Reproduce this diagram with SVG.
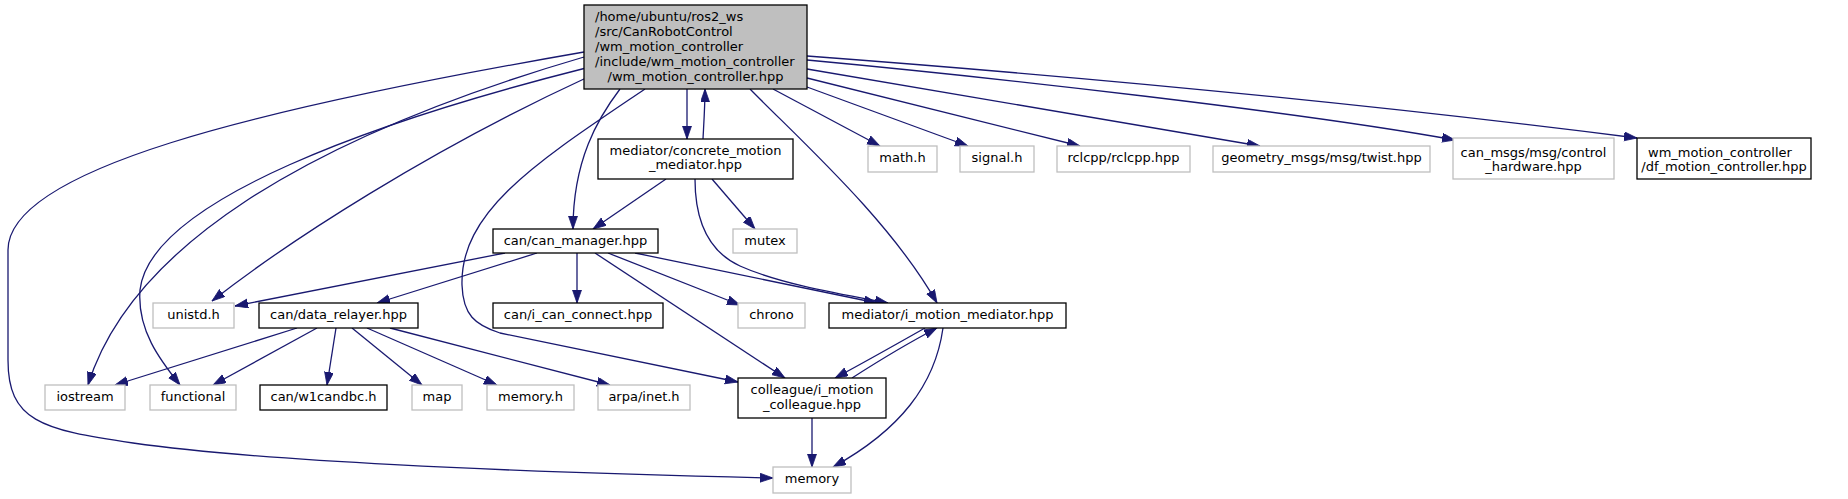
<svg xmlns="http://www.w3.org/2000/svg" width="1848" height="499" viewBox="0 0 1848 499">
<defs>
<marker id="ah" markerUnits="userSpaceOnUse" markerWidth="14" markerHeight="10" refX="13" refY="4.5" orient="auto">
<path d="M0,0 L13,4.5 L0,9 z" fill="#191970" stroke="#191970" stroke-width="0.8"/>
</marker>
</defs>
<style>
text{font-family:"DejaVu Sans",sans-serif;font-size:13px;fill:#000}
.c{text-anchor:middle}
.s{text-anchor:start}
.n rect{fill:#fff;stroke:#000;stroke-width:1.3}
.g rect{fill:#fff;stroke:#bfbfbf;stroke-width:1.3}
.r rect{fill:#bfbfbf;stroke:#000;stroke-width:1.3}
#edges path{fill:none;stroke:#191970;stroke-width:1.3;marker-end:url(#ah)}
</style>
<rect width="1848" height="499" fill="#fff"/>
<g id="edges">
<path d="M687,89 L687,139"/>
<path d="M703,139 C704,120 705,105 705,89"/>
<path d="M620,89 C598,118 573,160 573,229"/>
<path d="M586,78 C430,150 290,240 212,301"/>
<path d="M586,68 C380,120 150,200 140,290 C137,330 160,360 180,385"/>
<path d="M584,57 C300,140 130,250 88,385"/>
<path d="M584,52 C250,110 8,170 8,250 L8,360 C8,420 40,430 133,443 C250,460 500,472 773,478"/>
<path d="M645,89 C540,160 460,210 462,285 C463,315 475,325 500,333 L738,382"/>
<path d="M750,89 C800,140 890,220 937,303"/>
<path d="M773,89 L880,146"/>
<path d="M807,87 L968,146"/>
<path d="M807,78 L1080,146"/>
<path d="M807,69 L1260,146"/>
<path d="M807,60 C1000,78 1300,112 1455,140"/>
<path d="M807,56 C1100,78 1400,108 1637,138"/>
<path d="M666,179 L593,229"/>
<path d="M712,179 L755,229"/>
<path d="M695,179 C695,215 705,250 740,266 C780,284 840,294 888,303"/>
<path d="M505,253 L235,306"/>
<path d="M537,253 L377,303"/>
<path d="M577,253 L577,303"/>
<path d="M608,253 L740,305"/>
<path d="M635,253 L877,303"/>
<path d="M595,253 L785,378"/>
<path d="M297,328 L115,385"/>
<path d="M317,328 L213,385"/>
<path d="M336,328 L327,385"/>
<path d="M352,328 L422,385"/>
<path d="M367,328 L497,385"/>
<path d="M390,328 L610,385"/>
<path d="M925,328 C895,345 865,362 835,378"/>
<path d="M943,328 C935,385 900,430 833,467"/>
<path d="M852,378 C880,360 910,342 937,328"/>
<path d="M812,418 L812,467"/>
</g>
<g id="main" class="r"><rect x="584" y="5" width="223" height="84"/>
<text class="s" x="595" y="21">/home/ubuntu/ros2_ws</text>
<text class="s" x="595" y="36">/src/CanRobotControl</text>
<text class="s" x="595" y="51">/wm_motion_controller</text>
<text class="s" x="595" y="66">/include/wm_motion_controller</text>
<text class="c" x="695.5" y="81">/wm_motion_controller.hpp</text></g>
<g id="concrete" class="n"><rect x="598" y="139" width="195" height="40"/>
<text class="c" x="695.5" y="155">mediator/concrete_motion</text>
<text class="c" x="695.5" y="169">_mediator.hpp</text></g>
<g id="can_manager" class="n"><rect x="493" y="229" width="165" height="24"/><text class="c" x="575.5" y="245">can/can_manager.hpp</text></g>
<g id="mutex" class="g"><rect x="733" y="229" width="64" height="24"/><text class="c" x="765" y="245">mutex</text></g>
<g id="unistd" class="g"><rect x="153" y="303" width="81" height="25"/><text class="c" x="193.5" y="319">unistd.h</text></g>
<g id="data_relayer" class="n"><rect x="259" y="303" width="159" height="25"/><text class="c" x="338.5" y="319">can/data_relayer.hpp</text></g>
<g id="i_can_connect" class="n"><rect x="493" y="303" width="170" height="25"/><text class="c" x="578" y="319">can/i_can_connect.hpp</text></g>
<g id="chrono" class="g"><rect x="738" y="303" width="67" height="25"/><text class="c" x="771.5" y="319">chrono</text></g>
<g id="i_motion_mediator" class="n"><rect x="829" y="303" width="237" height="25"/><text class="c" x="947.5" y="319">mediator/i_motion_mediator.hpp</text></g>
<g id="iostream" class="g"><rect x="45" y="385" width="80" height="25"/><text class="c" x="85" y="401">iostream</text></g>
<g id="functional" class="g"><rect x="150" y="385" width="86" height="25"/><text class="c" x="193" y="401">functional</text></g>
<g id="w1candbc" class="n"><rect x="260" y="385" width="127" height="25"/><text class="c" x="323.5" y="401">can/w1candbc.h</text></g>
<g id="map" class="g"><rect x="412" y="385" width="50" height="25"/><text class="c" x="437" y="401">map</text></g>
<g id="memory_h" class="g"><rect x="487" y="385" width="87" height="25"/><text class="c" x="530.5" y="401">memory.h</text></g>
<g id="arpa" class="g"><rect x="598" y="385" width="92" height="25"/><text class="c" x="644" y="401">arpa/inet.h</text></g>
<g id="colleague" class="n"><rect x="738" y="378" width="148" height="40"/>
<text class="c" x="812" y="394">colleague/i_motion</text>
<text class="c" x="812" y="409">_colleague.hpp</text></g>
<g id="memory" class="g"><rect x="773" y="467" width="78" height="26"/><text class="c" x="812" y="483">memory</text></g>
<g id="math" class="g"><rect x="868" y="146" width="69" height="26"/><text class="c" x="902.5" y="162">math.h</text></g>
<g id="signal" class="g"><rect x="960" y="146" width="74" height="26"/><text class="c" x="997" y="162">signal.h</text></g>
<g id="rclcpp" class="g"><rect x="1057" y="146" width="133" height="26"/><text class="c" x="1123.5" y="162">rclcpp/rclcpp.hpp</text></g>
<g id="geometry" class="g"><rect x="1213" y="146" width="217" height="26"/><text class="c" x="1321.5" y="162">geometry_msgs/msg/twist.hpp</text></g>
<g id="can_msgs" class="g"><rect x="1453" y="138" width="161" height="41"/>
<text class="c" x="1533.5" y="157">can_msgs/msg/control</text>
<text class="c" x="1533.5" y="171">_hardware.hpp</text></g>
<g id="df" class="n"><rect x="1637" y="138" width="174" height="41"/>
<text class="s" x="1648" y="157">wm_motion_controller</text>
<text class="c" x="1724" y="171">/df_motion_controller.hpp</text></g>
</svg>
